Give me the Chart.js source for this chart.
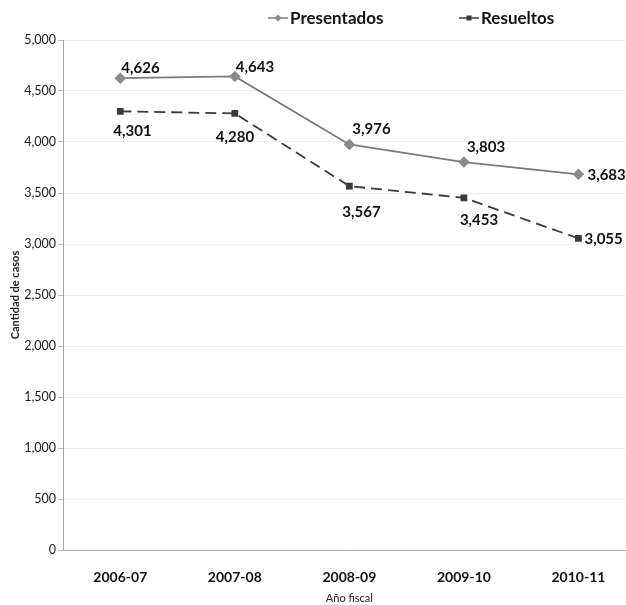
<!DOCTYPE html>
<html>
<head>
<meta charset="utf-8">
<script src="https://cdn.jsdelivr.net/npm/chart.js@4.4.1/dist/chart.umd.min.js"></script>
<style>
  body { margin: 0; background: #fff; overflow: hidden; }
  #wrap { width: 642px; height: 605px; }
</style>
</head>
<body>
<div id="wrap"><canvas id="casos-plot"></canvas></div>
<script>
// Casos por año fiscal

const years = ['2006-07', '2007-08', '2008-09', '2009-10', '2010-11'];
const presentados = [4626, 4643, 3976, 3803, 3683];
const resueltos = [4301, 4280, 3567, 3453, 3055];
const yTicks = [0, 500, 1000, 1500, 2000, 2500, 3000, 3500, 4000, 4500, 5000];

// label nudges [dx, dy] from each point (text left edge, baseline)
const presNudge = [[1, -5], [1, -4], [3, -10], [3, -10], [9, 6]];
const resNudge = [[-7, 25], [-19, 29], [-7, 31], [-4, 27], [6, 6]];

const FONT = 'Lato, "Open Sans", sans-serif';
const fmt = v => v.toLocaleString('en-US');

const valueLabels = {
  id: 'valueLabels',
  afterDatasetsDraw(chart) {
    const ctx = chart.ctx;
    ctx.save();
    ctx.font = 'bold 15px ' + FONT;
    ctx.fillStyle = '#111';
    ctx.textAlign = 'left';
    ctx.textBaseline = 'alphabetic';
    chart.data.datasets.forEach((ds, i) => {
      chart.getDatasetMeta(i).data.forEach((pt, j) => {
        const [dx, dy] = ds.nudge[j];
        ctx.fillText(fmt(ds.data[j]), pt.x + dx, pt.y + dy);
      });
    });
    ctx.restore();
  }
};

const topLegend = {
  id: 'topLegend',
  afterDraw(chart) {
    const ctx = chart.ctx;
    const y = 18;
    const items = [
      { x: 268, ds: chart.data.datasets[0] },
      { x: 459, ds: chart.data.datasets[1] }
    ];
    ctx.save();
    items.forEach(it => {
      const ds = it.ds;
      ctx.strokeStyle = ds.borderColor;
      ctx.lineWidth = 1.5;
      ctx.beginPath();
      ctx.moveTo(it.x, y);
      ctx.lineTo(it.x + 20, y);
      ctx.stroke();
      ctx.fillStyle = ds.pointBackgroundColor;
      ctx.translate(it.x + 10, y);
      if (ds.pointStyle == 'rectRot') ctx.rotate(Math.PI / 4);
      ctx.fillRect(-2.5, -2.5, 5, 5);
      ctx.setTransform(1, 0, 0, 1, 0, 0);
      ctx.font = 'bold 17px ' + FONT;
      ctx.fillStyle = '#111';
      ctx.textAlign = 'left';
      ctx.textBaseline = 'middle';
      ctx.fillText(ds.label, it.x + 22, y + 1);
    });
    ctx.restore();
  }
};

new Chart('casos-plot', {
  type: 'line',
  data: {
    labels: years,
    datasets: [{
      label: 'Presentados',
      data: presentados,
      borderColor: '#7a7a7a',
      backgroundColor: '#7a7a7a',
      pointBackgroundColor: '#8a8a8a',
      pointBorderColor: '#8a8a8a',
      pointStyle: 'rectRot',
      pointRadius: 4.5,
      borderWidth: 1.8,
      tension: 0,
      nudge: presNudge
    },
    {
      label: 'Resueltos',
      data: resueltos,
      borderColor: '#3a3a3a',
      backgroundColor: '#3a3a3a',
      pointBackgroundColor: '#3a3a3a',
      pointBorderColor: '#3a3a3a',
      pointStyle: 'rect',
      pointRadius: 3.5,
      borderWidth: 1.8,
      borderDash: [11, 6],
      tension: 0,
      nudge: resNudge
    }]
  },
  options: {
    responsive: true,
    maintainAspectRatio: false,
    animation: false,
    layout: {
      padding: { top: 40, right: 0, left: 9, bottom: 0 }
    },
    plugins: {
      legend: { display: false },
      tooltip: { enabled: false }
    },
    scales: {
      y: {
        min: 0,
        max: 5000,
        afterBuildTicks: axis => { axis.ticks = yTicks.map(v => ({ value: v })); },
        grid: {
          color: '#efefef',
          tickColor: '#bbb',
          tickLength: 5
        },
        border: { color: '#a8a8a8' },
        ticks: {
          color: '#1a1a1a',
          padding: 2,
          font: { family: FONT, size: 12.5 },
          callback: v => fmt(v)
        },
        title: {
          display: true,
          text: 'Cantidad de casos',
          color: '#222',
          padding: { top: 0, bottom: 0 },
          font: { family: FONT, size: 11, weight: 'bold' }
        }
      },
      x: {
        offset: true,
        afterFit: axis => { axis.height = 55; },
        grid: { display: false },
        border: { color: '#a8a8a8' },
        ticks: {
          color: '#111',
          padding: 11,
          font: { family: FONT, size: 14, weight: 'bold' }
        },
        title: {
          display: true,
          text: 'Año fiscal',
          color: '#222',
          padding: { top: 0, bottom: 0 },
          font: { family: FONT, size: 11 }
        }
      }
    }
  },
  plugins: [valueLabels, topLegend]
});
</script>
</body>
</html>
